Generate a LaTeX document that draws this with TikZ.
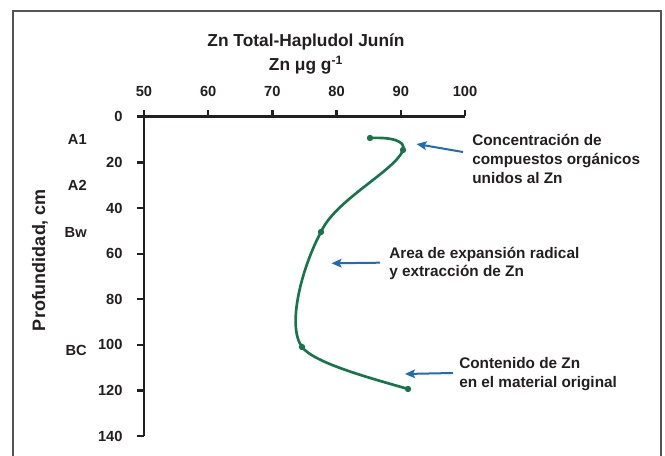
\documentclass[tikz,border=0pt]{standalone}
\usepackage{fontspec}
\setmainfont{Liberation Sans}
\usetikzlibrary{positioning, arrows.meta}
\definecolor{zngreen}{HTML}{17754A}
\definecolor{noteblue}{HTML}{1D6CB5}
\definecolor{framegray}{HTML}{555555}
\definecolor{inkblack}{HTML}{231F20}
\tikzset{x=0.75pt, y=-0.75pt, % One unit is one pixel of the figure
every node/.style={text=inkblack, inner sep=0pt},
frame/.style={draw=framegray, line width=1.1pt}, % Outer box
axis/.style={draw=inkblack, line width=1.7pt}, % Axes and ticks
ticklabel/.style={font=\fontsize{11}{13}\selectfont\bfseries},
horizon/.style={font=\fontsize{11}{13}\selectfont\bfseries, anchor=east},
title/.style={font=\fontsize{13}{15}\selectfont\bfseries},
note/.style={ % Comment texts beside the curve
align=left, anchor=north west,
font=\fontsize{11.5}{14.1}\selectfont\bfseries},
dot/.style={circle, fill=zngreen, minimum size=4.8pt},
zncurve/.style={draw=zngreen, line width=2pt},
pointer/.style={ % Blue arrows of the comments
draw=noteblue, line width=1.5pt,
-{Stealth[length=7.5pt, width=6.5pt, inset=1.5pt]}}}

\begin{document}
\begin{tikzpicture}
    \useasboundingbox (0,0) rectangle (665,456);
    \clip (0,0) rectangle (665,456);
    \draw[frame] (13,11) rectangle (661,470);

    \node[title] (title) at (306,42) {Zn Total-Hapludol Junín};
    \node[title, below=4pt of title] (unit) {Zn μg g\textsuperscript{-1}};
    \node[ticklabel, rotate=90, font=\fontsize{13.5}{15}\selectfont\bfseries] (ylab) at (40,260) {Profundidad, cm};

    % axes
    \coordinate (o) at (144,116.5);
    \coordinate (xend) at (465,116.5);
    \coordinate (yend) at (144,436);
    \draw[axis] (xend) -- (o) -- (yend);

    % ticks of Zn
    \draw[axis] (144,116.5) -- (144,110) node[ticklabel, above=9.5pt] (x50) {50};
    \draw[axis] (208.2,116.5) -- (208.2,110) node[ticklabel, above=9.5pt] (x60) {60};
    \draw[axis] (272.4,116.5) -- (272.4,110) node[ticklabel, above=9.5pt] (x70) {70};
    \draw[axis] (336.6,116.5) -- (336.6,110) node[ticklabel, above=9.5pt] (x80) {80};
    \draw[axis] (400.8,116.5) -- (400.8,110) node[ticklabel, above=9.5pt] (x90) {90};
    \draw[axis] (465,116.5) -- (465,110) node[ticklabel, above=9.5pt] (x100) {100};

    % ticks of depth
    \draw[axis] (144,116.5) -- (137,116.5) node[ticklabel, left=10pt] (y0) {0};
    \draw[axis] (144,162.6) -- (137,162.6) node[ticklabel, left=10pt] (y20) {20};
    \draw[axis] (144,208.1) -- (137,208.1) node[ticklabel, left=10pt] (y40) {40};
    \draw[axis] (144,253.7) -- (137,253.7) node[ticklabel, left=10pt] (y60) {60};
    \draw[axis] (144,299.3) -- (137,299.3) node[ticklabel, left=10pt] (y80) {80};
    \draw[axis] (144,344.9) -- (137,344.9) node[ticklabel, left=10pt] (y100) {100};
    \draw[axis] (144,390.4) -- (137,390.4) node[ticklabel, left=10pt] (y120) {120};
    \draw[axis] (144,436) -- (137,436) node[ticklabel, left=10pt] (y140) {140};

    % soil horizons
    \node[horizon] (A1) at (87,139) {A1};
    \node[horizon] (A2) at (87,185) {A2};
    \node[horizon] (Bw) at (87,232) {Bw};
    \node[horizon] (BC) at (87,350) {BC};

    % Zn profile
    \node[dot] (z1) at (370,138) {};
    \node[dot] (z2) at (403,150) {};
    \node[dot] (z3) at (321,232) {};
    \node[dot] (z4) at (302,347) {};
    \node[dot] (z5) at (408,389) {};
    \draw[zncurve] (z1.center) .. controls (392,137) and (406,141) .. (z2.center)
        .. controls (396,170) and (335,200) .. (z3.center)
        .. controls (303,265) and (286,325) .. (z4.center)
        .. controls (314,363) and (370,378) .. (z5.center);

    % comments
    \node[note] (n1) at (472,134) {Concentración de\\compuestos orgánicos\\unidos al Zn};
    \node[note] (n2) at (389,246.5) {Area de expansión radical\\y extracción de Zn};
    \node[note] (n3) at (459,357.5) {Contenido de Zn\\en el material original};
    \coordinate (t1) at (463,152);
    \coordinate (h1) at (416.5,144);
    \coordinate (t2) at (380,262.7);
    \coordinate (h2) at (331.5,263.3);
    \coordinate (t3) at (453,373);
    \coordinate (h3) at (405,374);
    \draw[pointer] (t1) -- (h1);
    \draw[pointer] (t2) -- (h2);
    \draw[pointer] (t3) -- (h3);
\end{tikzpicture}
\end{document}
